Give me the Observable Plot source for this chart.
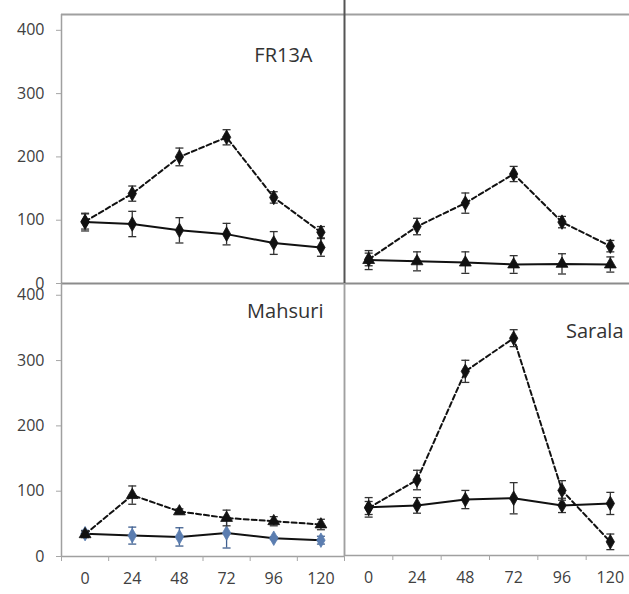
<!DOCTYPE html>
<html>
<head>
<meta charset="utf-8">
<script src="https://cdn.jsdelivr.net/npm/d3@7"></script>
<script src="https://cdn.jsdelivr.net/npm/@observablehq/plot@0.6"></script>
<style>
  html, body { margin: 0; padding: 0; background: #fff; }
  #wrap { position: relative; width: 629px; height: 594px; overflow: hidden; background: #fff; }
</style>
</head>
<body>
<div id="wrap"></div>
<script>
// ---------- data ----------
const times = [0, 24, 48, 72, 96, 120];
const yTicks = [0, 100, 200, 300, 400];

// FR13A (top-left)
const fr13aDashed    = [98, 142, 200, 231, 136, 81];
const fr13aDashedErr = [12, 12, 14, 12, 9, 9];
const fr13aSolid     = [97, 94, 84, 78, 64, 57];
const fr13aSolidErr  = [14, 20, 20, 17, 18, 14];

// top-right (unlabelled)
const trDashed    = [38, 90, 127, 173, 97, 59];
const trDashedErr = [10, 13, 16, 12, 9, 9];
const trSolid     = [37, 35, 33, 30, 31, 30];
const trSolidErr  = [15, 15, 17, 14, 16, 12];

// Mahsuri (bottom-left)
const mahDashed    = [34, 94, 69, 59, 54, 49];
const mahDashedErr = [5, 14, 4, 12, 7, 8];
const mahSolid     = [35, 32, 30, 36, 28, 25];
const mahSolidErr  = [5, 13, 14, 23, 2, 6];

// Sarala (bottom-right)
const sarDashed    = [73, 116, 283, 334, 100, 21];
const sarDashedErr = [10, 15, 17, 13, 15, 12];
const sarSolid     = [74, 77, 86, 88, 77, 80];
const sarSolidErr  = [15, 12, 14, 24, 11, 17];

// ---------- helpers ----------
const rows = (vals, errs) => times.map((t, i) => ({t, v: vals[i], lo: vals[i] - errs[i], hi: vals[i] + errs[i]}));
const half = (times[1] - times[0]) / 2;
const xDomain = [times[0] - half, times[times.length - 1] + half];
const edges = [xDomain[0], ...times.map(t => t + half)];

const capSymbol = {
  draw(ctx, size) {
    const w = Math.sqrt(size / Math.PI);
    ctx.moveTo(-w, 0);
    ctx.lineTo(w, 0);
  }
};

function seriesMarks(data, {dashed, symbol, fill = "#111", barColor = "#333"}) {
  return [
    Plot.line(data, {x: "t", y: "v", stroke: "#111", strokeWidth: 2, strokeDasharray: dashed ? "5,3" : null}),
    Plot.ruleX(data, {x: "t", y1: "lo", y2: "hi", stroke: barColor, strokeWidth: 1.3}),
    Plot.dot(data, {x: "t", y: "lo", symbol: capSymbol, r: 4, fill: "none", stroke: barColor, strokeWidth: 1.3}),
    Plot.dot(data, {x: "t", y: "hi", symbol: capSymbol, r: 4, fill: "none", stroke: barColor, strokeWidth: 1.3}),
    Plot.dot(data, {x: "t", y: "v", symbol, r: 4.4, fill, stroke: fill, strokeWidth: 0.8})
  ];
}

function panel({left, top, width, height, marginLeft, marginTop, marginBottom, yMax,
                yAxis, xAxis, frame, series, label}) {
  const marks = [];
  marks.push(...frame);
  if (yAxis) {
    marks.push(Plot.axisY({ticks: yTicks, tickSize: 5, tickPadding: 12, stroke: "#a6a6a6", fill: "#404040", fontSize: 16, label: null}));
  }
  if (xAxis) {
    marks.push(Plot.axisX({ticks: edges, tickSize: 5, tickFormat: () => "", stroke: "#a6a6a6", label: null}));
    marks.push(Plot.axisX({ticks: times, tickSize: 0, tickPadding: 16, fill: "#404040", fontSize: 16, label: null}));
  }
  for (const s of series) marks.push(...seriesMarks(s.data, s));
  if (label) {
    marks.push(Plot.text([label.text], {frameAnchor: "top-right", textAnchor: "end", lineAnchor: "bottom",
      dx: label.dx, dy: label.dy, fontSize: 20, fill: "#333"}));
  }
  const chart = Plot.plot({
    width, height, marginLeft, marginRight: 0, marginTop, marginBottom,
    style: {fontFamily: "'Open Sans', sans-serif", fontSize: "16px", background: "transparent", overflow: "visible", color: "#404040"},
    x: {type: "linear", domain: xDomain, axis: null, label: null},
    y: {type: "linear", domain: [0, yMax], axis: null, label: null},
    marks
  });
  chart.style.position = "absolute";
  chart.style.left = left + "px";
  chart.style.top = top + "px";
  document.getElementById("wrap").appendChild(chart);
}

const gray = "#a0a0a0";
const dark = "#555";

// top-left FR13A
panel({
  left: 0, top: 0, width: 344, height: 290, marginLeft: 61, marginTop: 14, marginBottom: 7, yMax: 425,
  yAxis: true, xAxis: false,
  frame: [
    Plot.ruleY([425], {stroke: gray, strokeWidth: 2}),
    Plot.ruleX([xDomain[0]], {stroke: gray, strokeWidth: 1.5}),
    Plot.ruleY([0], {stroke: "#8c8c8c", strokeWidth: 2})
  ],
  series: [
    {data: rows(fr13aSolid, fr13aSolidErr), dashed: false, symbol: "diamond"},
    {data: rows(fr13aDashed, fr13aDashedErr), dashed: true, symbol: "diamond"}
  ],
  label: {text: "FR13A", dx: -32, dy: 47}
});

// top-right
panel({
  left: 343, top: 0, width: 291, height: 290, marginLeft: 1, marginTop: 14, marginBottom: 7, yMax: 425,
  yAxis: false, xAxis: false,
  frame: [
    Plot.ruleY([425], {stroke: gray, strokeWidth: 2}),
    Plot.ruleY([0], {stroke: "#8c8c8c", strokeWidth: 2})
  ],
  series: [
    {data: rows(trSolid, trSolidErr), dashed: false, symbol: "triangle"},
    {data: rows(trDashed, trDashedErr), dashed: true, symbol: "diamond"}
  ]
});

// bottom-left Mahsuri
panel({
  left: 0, top: 283, width: 344, height: 311, marginLeft: 61, marginTop: 0, marginBottom: 38, yMax: 418,
  yAxis: true, xAxis: true,
  frame: [
    Plot.ruleX([xDomain[0]], {stroke: gray, strokeWidth: 1.5}),
    Plot.ruleX([xDomain[1]], {stroke: gray, strokeWidth: 1.5}),
    Plot.ruleY([0], {stroke: gray, strokeWidth: 1.5})
  ],
  series: [
    {data: rows(mahSolid, mahSolidErr), dashed: false, symbol: "diamond", fill: "#5b7db0", barColor: "#3f5f8f"},
    {data: rows(mahDashed, mahDashedErr), dashed: true, symbol: "triangle"}
  ],
  label: {text: "Mahsuri", dx: -21, dy: 34}
});

// bottom-right Sarala
panel({
  left: 343, top: 283, width: 291, height: 311, marginLeft: 1, marginTop: 0, marginBottom: 39, yMax: 418,
  yAxis: false, xAxis: true,
  frame: [
    Plot.ruleY([0], {stroke: gray, strokeWidth: 1.5})
  ],
  series: [
    {data: rows(sarSolid, sarSolidErr), dashed: false, symbol: "diamond"},
    {data: rows(sarDashed, sarDashedErr), dashed: true, symbol: "diamond"}
  ],
  label: {text: "Sarala", dx: -11, dy: 54}
});

// central divider (drawn on top, spans both rows)
(function () {
  const svg = Plot.plot({
    width: 4, height: 594, margin: 0,
    style: {background: "transparent", overflow: "visible"},
    x: {domain: [0, 1], axis: null},
    y: {domain: [0, 594], axis: null, reverse: true},
    marks: [
      Plot.ruleX([0.5], {y1: 0, y2: 283, stroke: dark, strokeWidth: 2}),
      Plot.ruleX([0.5], {y1: 283, y2: 556, stroke: "#a0a0a0", strokeWidth: 1.5})
    ]
  });
  svg.style.position = "absolute";
  svg.style.left = "342px";
  svg.style.top = "0px";
  document.getElementById("wrap").appendChild(svg);
})();
</script>
</body>
</html>
